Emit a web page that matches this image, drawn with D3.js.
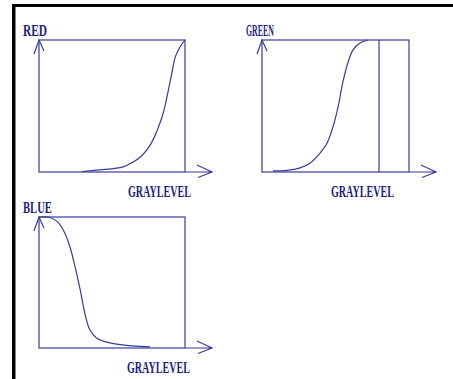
<!DOCTYPE html>
<html>
<head>
<meta charset="utf-8">
<script src="https://cdn.jsdelivr.net/npm/d3@7"></script>
<style>
  body { margin: 0; background: #fff; }
  svg { display: block; }
  .lbl { font-family: "Liberation Serif", "DejaVu Serif", serif; font-weight: bold; fill: #1e1e7c; }
</style>
</head>
<body>
<div id="chart"></div>
<script>
/* transfer curves: graylevel (0-255) -> channel output (0-255) */
const redGray   = [75, 106, 147, 164, 178, 190, 200, 208, 217, 225, 232, 238, 246, 255];
const redOut    = [1, 4, 10, 19, 30, 45, 64, 85, 114, 153, 191, 222, 241, 255];

const greenGray = [19, 43, 66, 83, 101, 113, 123, 132, 140, 149, 158, 170, 184];
const greenOut  = [2, 3, 8, 17, 37, 56, 87, 126, 172, 211, 236, 249, 255];
const greenCutoff = 203;   // vertical marker line in the GREEN panel

const blueGray  = [0, 19, 33, 45, 54, 63, 72, 80, 89, 101, 124, 164, 194];
const blueOut   = [255, 254, 245, 224, 197, 158, 113, 68, 35, 19, 10, 4, 2];

const xLabel = "GRAYLEVEL";

const width = 453, height = 379;
const ink = "#3a3a9a";

const svg = d3.select("#chart")
  .append("svg")
  .attr("width", width)
  .attr("height", height);

// black frame (top and left edges only)
svg.append("rect").attr("x", 12).attr("y", 4).attr("width", width - 12).attr("height", 3).attr("fill", "#000");
svg.append("rect").attr("x", 12).attr("y", 4).attr("width", 3.5).attr("height", height - 4).attr("fill", "#000");

// condensed text: squeeze the natural width to the wanted one
const squeezed = (g, str, x, y, size, targetW) => {
  const t = g.append("text")
    .attr("class", "lbl")
    .attr("font-size", size)
    .text(str);
  const w = t.node().getComputedTextLength();
  t.attr("transform", `translate(${x},${y}) scale(${targetW / w},1)`);
};

const panels = [
  {name: "RED",   gray: redGray,   out: redOut,   left: 39,  top: 40,  w: 146, h: 132, nameW: 24, labelX: 128},
  {name: "GREEN", gray: greenGray, out: greenOut, left: 262, top: 40,  w: 147, h: 132, nameW: 28, labelX: 331, cut: greenCutoff},
  {name: "BLUE",  gray: blueGray,  out: blueOut,  left: 39,  top: 217, w: 146, h: 131, nameW: 29, labelX: 127}
];

panels.forEach(p => {
  const xScale = d3.scaleLinear().domain([0, 255]).range([p.left, p.left + p.w]);
  const yScale = d3.scaleLinear().domain([0, 255]).range([p.top + p.h, p.top]);
  const g = svg.append("g");

  const x0 = xScale(0), x1 = xScale(255), y0 = yScale(0), y1 = yScale(255);

  // box
  g.append("rect")
    .attr("x", x0).attr("y", y1)
    .attr("width", x1 - x0).attr("height", y0 - y1)
    .attr("fill", "none").attr("stroke", ink).attr("stroke-width", 1.2);

  // x-axis arrow
  const ax = x1 + 27;
  g.append("path")
    .attr("d", `M${x1},${y0}L${ax},${y0}M${ax - 15},${y0 - 7}L${ax},${y0}L${ax - 14},${y0 + 5.5}`)
    .attr("fill", "none").attr("stroke", ink).attr("stroke-width", 1.2);

  // y-axis arrowhead
  g.append("path")
    .attr("d", `M${x0 - 5},${y1 + 14}L${x0},${y1}L${x0 + 5},${y1 + 11}`)
    .attr("fill", "none").attr("stroke", ink).attr("stroke-width", 1.2);

  if (p.cut !== undefined) {
    g.append("line")
      .attr("x1", xScale(p.cut)).attr("x2", xScale(p.cut))
      .attr("y1", y1).attr("y2", y0)
      .attr("stroke", ink).attr("stroke-width", 1.2);
  }

  const pts = p.gray.map((v, i) => [v, p.out[i]]);
  const line = d3.line()
    .x(d => xScale(d[0]))
    .y(d => yScale(d[1]))
    .curve(d3.curveCatmullRom);

  g.append("path")
    .datum(pts)
    .attr("d", line)
    .attr("fill", "none").attr("stroke", ink).attr("stroke-width", 1.2);

  squeezed(g, p.name, x0 - 16, y1 - 4, 16, p.nameW);
  squeezed(g, xLabel, p.labelX, y0 + 25, 16.5, 63);
});
</script>
</body>
</html>
